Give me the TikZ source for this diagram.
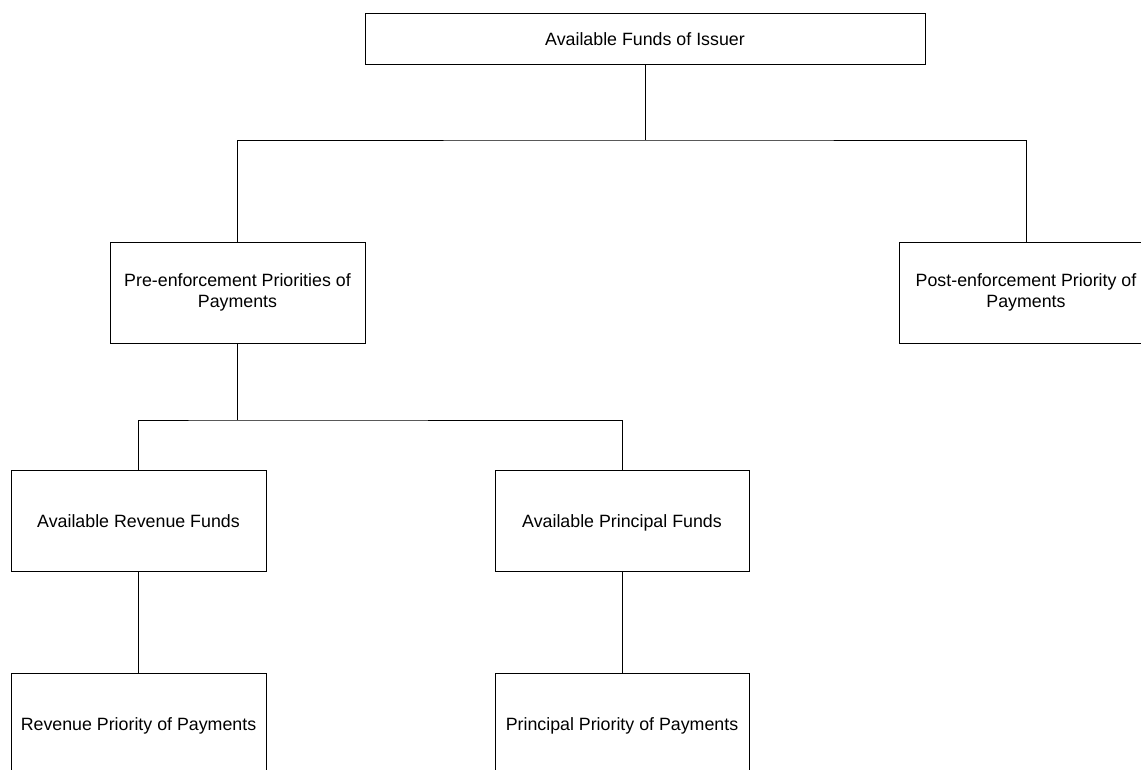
\documentclass[tikz,border=0pt]{standalone}
\usepackage{fontspec}
\setmainfont{Liberation Sans}
\begin{document}
\begin{tikzpicture}[x=1pt,y=-1pt,
  box/.style={draw,line width=0.9pt,inner sep=0pt,align=center,font=\fontsize{17.8}{21}\selectfont},
  one/.style={text height=14.5pt,text depth=1.5pt},
  conn/.style={draw,line width=0.9pt}]
\useasboundingbox (0,0) rectangle (1141,769);
\clip (0,0) rectangle (1141,769);
\node[box,one,minimum width=560pt,minimum height=51pt] (top) at (645,38.5) {Available Funds of Issuer};
\node[box,minimum width=255pt,minimum height=101pt] (pre) at (237.5,292.5) {Pre-enforcement Priorities of\\Payments};
\node[box,minimum width=254pt,minimum height=101pt] (post) at (1026,292.5) {Post-enforcement Priority of\\Payments};
\node[box,one,minimum width=255pt,minimum height=101pt] (rev) at (138.5,520.5) {Available Revenue Funds};
\node[box,one,minimum width=254pt,minimum height=101pt] (prin) at (622,520.5) {Available Principal Funds};
\node[box,one,minimum width=255pt,minimum height=101pt] (revp) at (138.5,723.5) {Revenue Priority of Payments};
\node[box,one,minimum width=254pt,minimum height=101pt] (prinp) at (622,723.5) {Principal Priority of Payments};
\coordinate (j1) at (645,140);
\coordinate (j2) at (237.5,420);
\draw[conn] (top.south) -- (j1);
\draw[conn] (pre.north) |- (j1) -| (post.north);
\draw[conn] (pre.south) -- (j2);
\draw[conn] (rev.north) |- (j2) -| (prin.north);
\draw[conn] (rev.south) -- (revp.north);
\draw[conn] (prin.south) -- (prinp.north);
\end{tikzpicture}
\end{document}
